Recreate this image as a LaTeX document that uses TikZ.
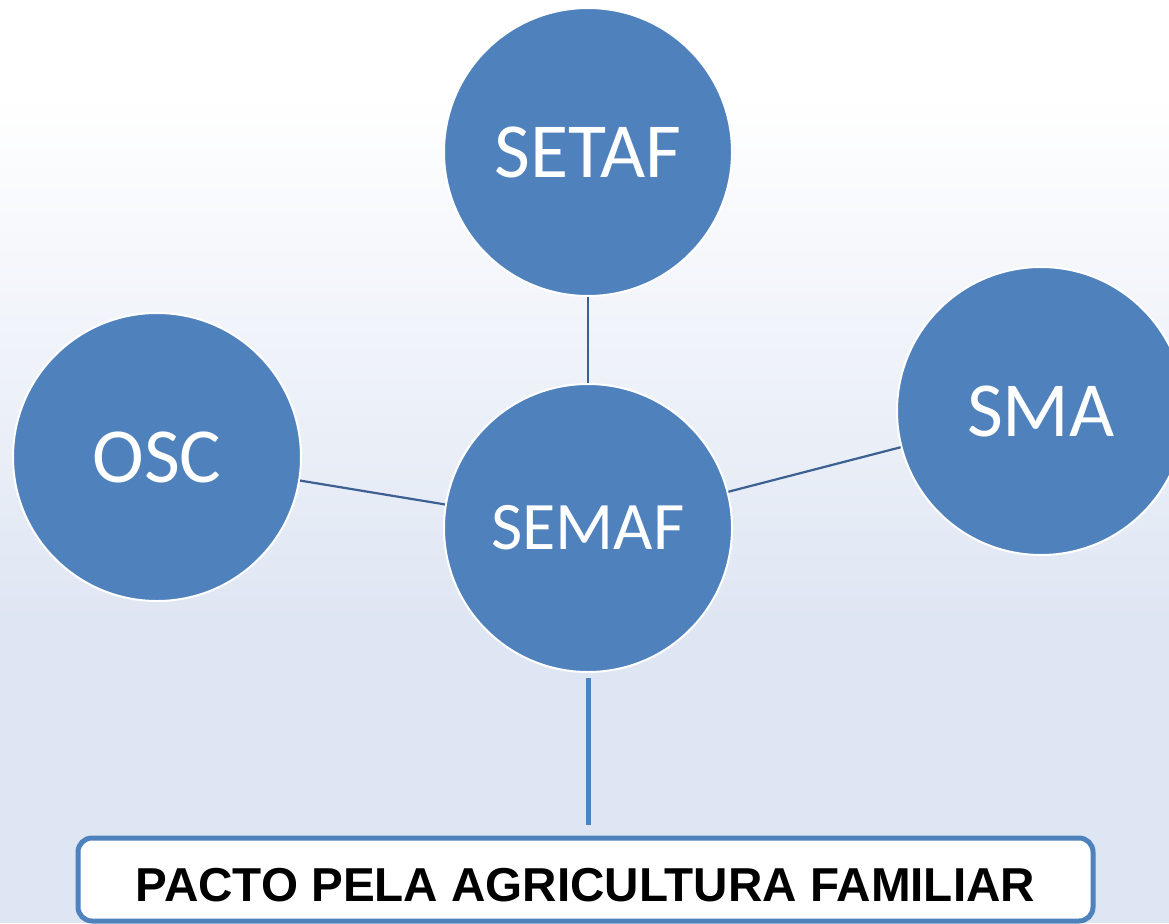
\documentclass[tikz,border=0pt]{standalone}
\usepackage{fontspec}
\setmainfont{Carlito}
\newfontfamily\arialfont{Liberation Sans}
\usetikzlibrary{shadows}
\definecolor{circblue}{RGB}{79,129,189}
\definecolor{linkblue}{RGB}{60,96,145}
\definecolor{bgblue}{RGB}{223,230,243}
\begin{document}
\begin{tikzpicture}[x=1pt,y=-1pt,
  bubble/.style={circle,fill=circblue,draw=white,line width=2pt,inner sep=0pt,
    minimum size=288pt,text=white,font=\fontsize{78}{80}\selectfont},
  link/.style={draw=linkblue,line width=2.2pt},
  thicklink/.style={draw=circblue,line width=5pt},
  pactobox/.style={rectangle,rounded corners=14pt,fill=white,draw=circblue,line width=5pt,
    minimum width=1015pt,minimum height=83pt,inner sep=0pt,text height=43pt,text depth=0pt,
    font=\arialfont\bfseries\fontsize{47.6}{50}\selectfont,
    drop shadow={opacity=0.25,shadow xshift=2pt,shadow yshift=-2pt}}]
\useasboundingbox (0,0) rectangle (1169,923);
\clip (0,0) rectangle (1169,923);
% background
\fill[white] (0,0) rectangle (1169,95);
\shade[top color=white,bottom color=bgblue] (0,94) rectangle (1169,620);
\fill[bgblue] (0,619) rectangle (1169,923);
% nodes
\node[bubble] (setaf) at (588,152) {SETAF};
\node[bubble,font=\fontsize{68}{70}\selectfont] (semaf) at (588,528) {SEMAF};
\node[bubble] (osc) at (157,457) {OSC};
\node[bubble] (sma) at (1041,411) {SMA};
\node[pactobox] (pacto) at (585.5,879.5) {PACTO PELA AGRICULTURA FAMILIAR};
% connectors
\draw[link] (setaf) -- (semaf);
\draw[link] (osc) -- (semaf);
\draw[link] (semaf) -- (sma);
\draw[thicklink] ([yshift=-5pt]semaf.south) -- ([yshift=11pt]semaf.south |- pacto.north);
\end{tikzpicture}
\end{document}
